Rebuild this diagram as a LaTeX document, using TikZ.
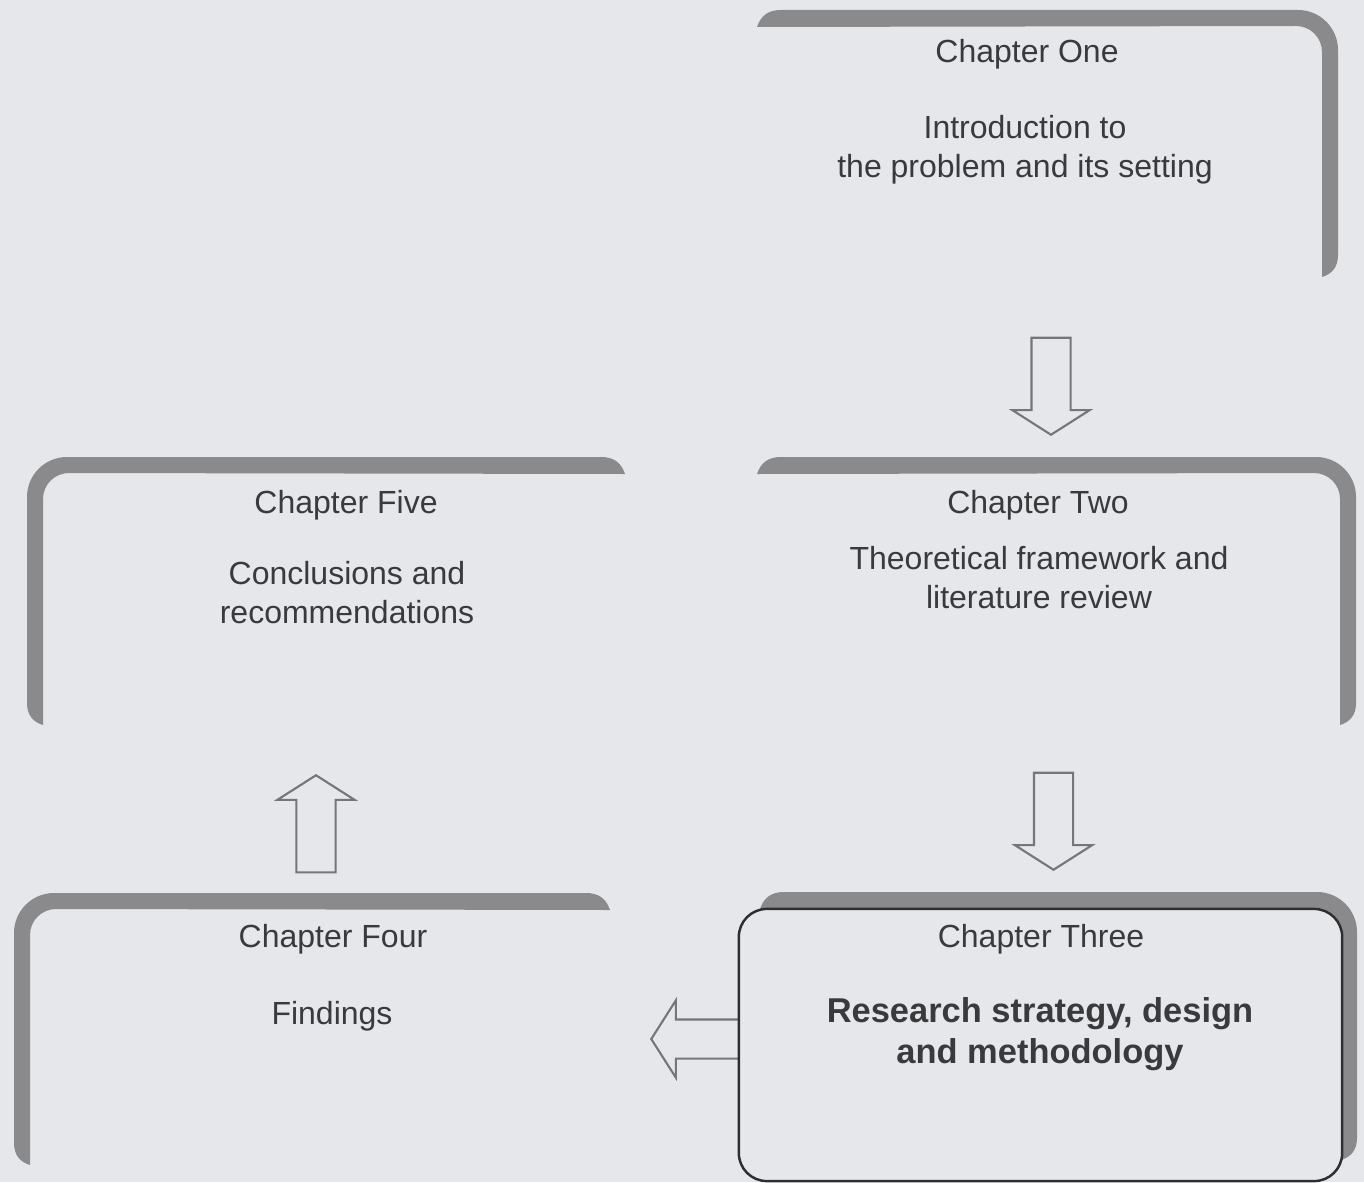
\documentclass[tikz,border=0pt]{standalone}
\usepackage{fontspec}
\setmainfont{Liberation Sans}
\usetikzlibrary{shapes.arrows}

\definecolor{paper}{RGB}{229,231,235}
\definecolor{bandgray}{RGB}{138,138,141}
\definecolor{arrowgray}{RGB}{118,118,120}
\definecolor{inkgray}{RGB}{58,58,60}

% grey band, corner at top right
\newcommand{\bandTR}[4]{%
  \fill[bandgray] (#1,#2+17) .. controls (#1+4,#2+5) and (#1+12,#2) .. (#1+24,#2)
    -- (#3-40,#2) arc[start angle=-90,end angle=0,radius=40]
    -- (#3,#4-22) .. controls (#3,#4-10) and (#3-6,#4-3) .. (#3-16,#4)
    -- (#3-16,#2+42) arc[start angle=0,end angle=-90,radius=26] -- cycle;}
% grey band, corner at top left
\newcommand{\bandTL}[4]{%
  \fill[bandgray] (#3,#2+17) .. controls (#3-4,#2+5) and (#3-12,#2) .. (#3-24,#2)
    -- (#1+40,#2) arc[start angle=-90,end angle=-180,radius=40]
    -- (#1,#4-22) .. controls (#1,#4-10) and (#1+6,#4-3) .. (#1+16,#4)
    -- (#1+16,#2+42) arc[start angle=180,end angle=270,radius=26] -- cycle;}

\begin{document}
\begin{tikzpicture}[x=0.01cm, y=-0.01cm,
    head/.style={anchor=base, inner sep=0pt, text=inkgray,
      font=\fontsize{9.1}{11}\selectfont},
    body/.style={head, align=center},
    boldbody/.style={body, font=\fontsize{9.8}{11.4}\selectfont\bfseries},
    blockarrow/.style={single arrow, draw=arrowgray, fill=paper, line width=0.6pt,
      inner xsep=0pt, inner ysep=0.185cm, single arrow head extend=0.19cm,
      single arrow tip angle=115, minimum height=0.97cm, anchor=tip},
    chbox/.style={draw=inkgray!80!black, fill=paper, line width=0.7pt,
      rounded corners=0.28cm, minimum width=6.03cm, minimum height=2.72cm, inner sep=0pt}]

    \fill[paper] (0,0) rectangle (1364,1182);
    \useasboundingbox (0,0) rectangle (1364,1182);

    % bands
    \bandTR{757}{10}{1338}{277}
    \bandTR{757}{457}{1356}{725}
    \bandTR{760}{892}{1357}{1160}
    \bandTL{27}{457}{625}{725}
    \bandTL{14}{893}{610}{1165}

    % arrows
    \node[blockarrow, rotate=-90] (a12) at (1051,436) {};
    \node[blockarrow, rotate=-90] (a23) at (1053.5,871) {};
    \node[blockarrow, rotate=180, minimum height=0.9cm] (a34) at (650,1039) {};
    \node[blockarrow, rotate=90] (a45) at (316,774) {};

    \node[chbox] (c3box) at (1040.5,1045) {};

    % texts (multi-line nodes sit on their last line)
    \node[head] (c1) at (1027,63) {Chapter One};
    \node[body] (c1b) at (1025,177) {Introduction to\\the problem and its setting};
    \node[head] (c2) at (1038,513) {Chapter Two};
    \node[body] (c2b) at (1039,608) {Theoretical framework and\\literature review};
    \node[head] (c3) at (1041,947) {Chapter Three};
    \node[boldbody] (c3b) at (1040,1063) {Research strategy, design\\and methodology};
    \node[head] (c4) at (333,947) {Chapter Four};
    \node[body] (c4b) at (332,1024) {Findings};
    \node[head] (c5) at (346,513) {Chapter Five};
    \node[body] (c5b) at (347,623) {Conclusions and\\recommendations};
\end{tikzpicture}
\end{document}
